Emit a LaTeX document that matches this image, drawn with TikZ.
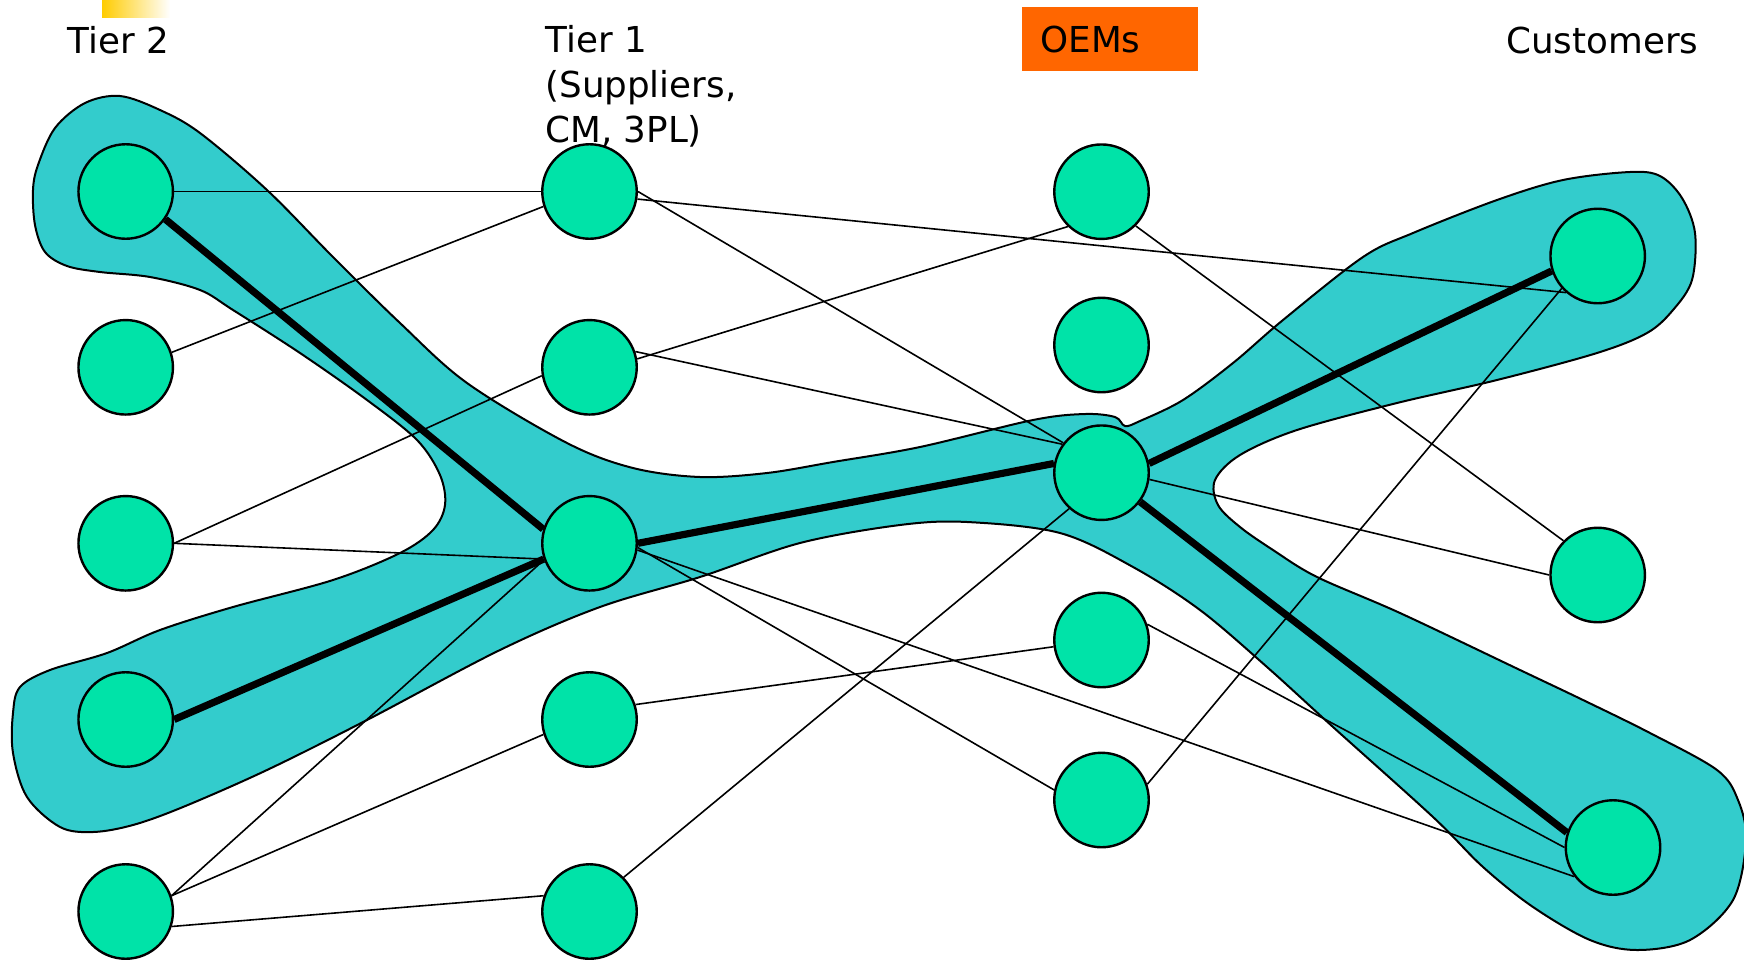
\documentclass[tikz,border=0pt]{standalone}
\usepackage{fontspec}
\setmainfont{DejaVu Sans}
\definecolor{chainteal}{HTML}{33CCCC}
\definecolor{firmgreen}{HTML}{00E3A8}
\definecolor{oemorange}{HTML}{FF6600}
\definecolor{accentyellow}{HTML}{FFCC00}

\begin{document}
\begin{tikzpicture}[x=0.5pt,y=-0.5pt,
    firm/.style={circle, draw=black, line width=1.2pt, fill=firmgreen,
      minimum size=47.25pt, inner sep=0pt},
    link/.style={line width=0.8pt},
    chain/.style={line width=3.6pt},
    tierlabel/.style={font=\fontsize{17.85}{22.3}\selectfont, inner sep=0pt,
      anchor=base west, align=left}]
  \useasboundingbox (0,0) rectangle (1744,959);

  % highlighted chain
  \draw[line width=1pt, fill=chainteal] plot[smooth cycle, tension=0.55] coordinates {
    (120,96) (160,110) (200,133) (267,190) (333,257) (400,323) (467,383)
    (567,443) (633,468) (700,477) (767,473) (833,462)
    (920,447) (1033,420) (1085,414) (1115,417) (1125,426) (1140,421)
    (1183,400) (1233,363) (1283,320) (1363,257) (1413,233) (1497,200)
    (1563,180) (1630,172) (1660,176) (1682,198) (1695,233) (1692,280)
    (1673,310) (1647,333) (1597,353) (1497,380) (1397,403) (1297,430)
    (1240,455) (1215,480) (1218,505) (1240,527) (1273,550) (1317,577)
    (1400,613) (1520,670) (1583,700) (1650,733) (1717,770) (1738,800)
    (1746,840) (1733,900) (1690,940) (1637,950) (1590,940) (1533,907)
    (1483,867) (1433,817) (1333,727) (1267,667) (1200,610) (1133,567)
    (1060,533) (967,522) (900,525) (800,543) (700,577) (600,607) (500,650)
    (367,720) (267,770) (183,807) (133,825) (93,832) (60,827) (27,797)
    (13,753) (13,713) (20,687) (50,670) (107,653) (160,630) (233,607)
    (333,580) (400,553) (433,530) (445,505) (440,475) (417,440) (367,400)
    (300,353) (233,310) (200,290) (150,277) (100,272) (67,266) (45,252)
    (35,225) (33,190) (38,165) (55,128) (85,103)};

  \shade[left color=accentyellow, right color=white] (102,0) rectangle (170,17);

  % column heads
  \node[tierlabel] (tier2) at (67,53) {Tier 2};
  \node[tierlabel] (tier1) at (545,142) {Tier 1\\(Suppliers,\\CM, 3PL)};
  \node[tierlabel, anchor=north west, fill=oemorange, minimum width=88pt,
    minimum height=32pt, inner xsep=9pt, text width=70pt] (oems) at (1022,7) {OEMs};
  \node[tierlabel] (customers) at (1506,53) {Customers};

  % firms
  \foreach \r/\y in {1/191.5,2/367.3,3/543.3,4/719.5,5/911.5} {
    \node[firm] (A\r) at (125.7,\y) {};
    \node[firm] (B\r) at (589.5,\y) {};
  }
  \foreach \r/\y in {1/191.7,2/345,3/472.7,4/640,5/800}
    \node[firm] (C\r) at (1101.5,\y) {};
  \node[firm] (D1) at (1597.7,256) {};
  \node[firm] (D2) at (1597.7,575) {};
  \node[firm] (D3) at (1613,847.5) {};

  % links
  \foreach \s/\t in {A1.0/B1.180, A2.18/B1.198, A3.0/B2.190, A3.0/B3.199,
      A5.19/B3.200, A5.19/B4.198, A5.-18/B5.161, B1.-9/D1.229, B1.0/C3.142,
      B2.10/C1.226, B2.19/C3.144, B3.-5/C5.168, B3.-8/D3.217, B4.18/C4.188,
      B5.45/C3.228, C1.-45/D2.135, C3.-8/D2.180, C4.19/D3.180, C5.19/D1.222}
    \draw[link] (\s) -- (\t);
  \foreach \s/\t in {A1.-35/B3.163, A4.0/B3.199, B3.0/C3.169, C3.11/D1.198,
      C3.-37/D3.162}
    \draw[chain] (\s) -- (\t);
\end{tikzpicture}
\end{document}
